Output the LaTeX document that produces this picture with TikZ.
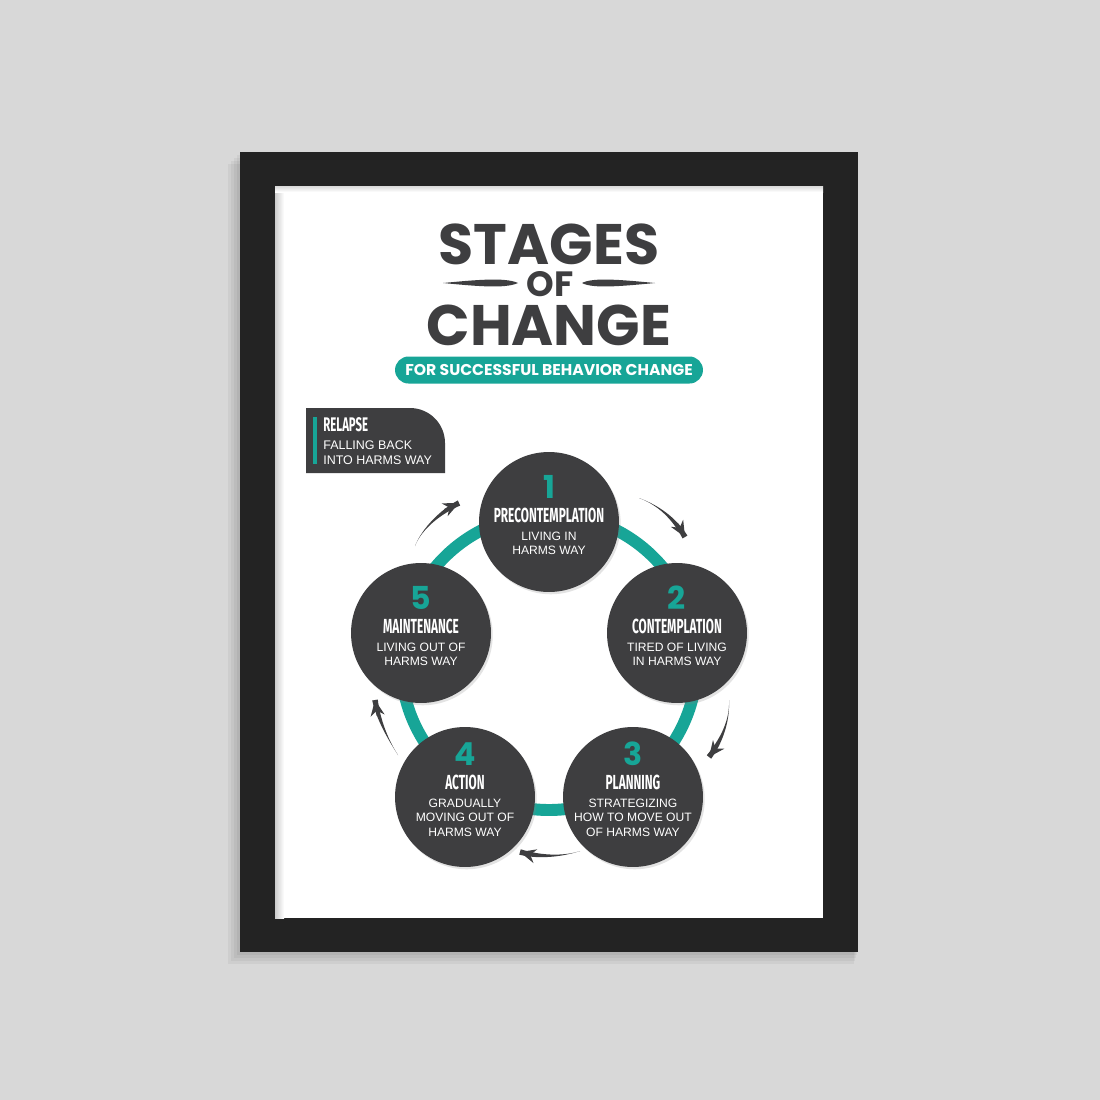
\documentclass[tikz,border=0pt]{standalone}
\usepackage{fontspec}
\setmainfont{Liberation Sans}
\newfontfamily\headfont{Poppins}
\newfontfamily\condfont[FakeStretch=0.58]{Fira Sans}
\usepackage{tikz}
\usetikzlibrary{calc,arrows.meta,shadows}
\definecolor{wall}{HTML}{D8D8D8}
\definecolor{frame}{HTML}{232323}
\definecolor{ink}{HTML}{3E3E40}
\definecolor{teal}{HTML}{17A597}
\tikzset{
  head/.style={text=ink, font=\headfont\bfseries, inner sep=0pt},
  pill/.style={fill=teal, text=white, rounded corners=0.27cm, minimum width=6.16cm, minimum height=0.54cm, inner sep=0pt, font=\headfont\bfseries\fontsize{8.9}{10}\selectfont},
  ring/.style={draw=teal, line width=6.8pt},
  stage/.style={circle, fill=ink, minimum size=2.8cm, inner sep=0pt, drop shadow={opacity=0.22, shadow xshift=1pt, shadow yshift=-1.3pt}},
  num/.style={text=teal, font=\headfont\bfseries\fontsize{18}{18}\selectfont, inner sep=0pt},
  ttl/.style={text=white, font=\condfont\bfseries\fontsize{11.6}{12}\selectfont, inner sep=0pt},
  desc/.style={text=white, align=center, font=\fontsize{6.9}{8.2}\selectfont, inner sep=0pt},
  tip/.style={draw=ink, line width=1pt, -{Stealth[length=9pt, width=8pt]}},
}

\begin{document}
\begin{tikzpicture}[x=0.02cm, y=-0.02cm]
  \useasboundingbox (0,0) rectangle (1100,1100);
  \fill[wall] (0,0) rectangle (1100,1100);

  % frame and paper
  \foreach \s in {3,6,9,12}
    \fill[black, opacity=0.045] (240-\s,152+\s) rectangle (858-\s/3,952+\s);
  \fill[frame] (240,152) rectangle (858,952);
  \fill[white] (275,186) rectangle (823,918);
  \shade[left color=black!20, right color=white] (275,186) rectangle (284,918);
  \shade[top color=black!15, bottom color=white] (275,186) rectangle (823,192);

  % title
  \node[head, font=\headfont\bfseries\fontsize{32.5}{33}\selectfont] (stages) at (549,244) {STAGES};
  \node[head, font=\headfont\bfseries\fontsize{20}{20}\selectfont] (of) at (550,284) {OF};
  \node[head, font=\headfont\bfseries\fontsize{32.5}{33}\selectfont] (change) at (549,325) {CHANGE};
  \fill[ink] (443,283) .. controls (475,280) and (505,277) .. (518,283)
             .. controls (505,289) and (475,286) .. (443,283);
  \fill[ink] (655,283) .. controls (623,280) and (593,277) .. (582,283)
             .. controls (593,289) and (623,286) .. (655,283);
  \node[pill] (sub) at (549,370) {FOR SUCCESSFUL BEHAVIOR CHANGE};

  % relapse
  \fill[ink] (306,473) -- (306,408) -- (410,408) arc[start angle=-90, end angle=0, radius=35] -- (445,473) -- cycle;
  \fill[teal] (313,417) rectangle (317,464);
  \node[ttl, anchor=base west, font=\condfont\bfseries\fontsize{11.2}{12}\selectfont] (rl) at (323,431) {RELAPSE};
  \node[desc, anchor=north west, align=left, font=\fontsize{7.1}{8.5}\selectfont] (rd) at (323,440) {FALLING BACK\\INTO HARMS WAY};

  % cycle
  \draw[ring] (549,662) circle (148);
  \foreach \i/\x/\y/\dy/\ttl/\sub in {
      1/549/522/0/PRECONTEMPLATION/{LIVING IN\\HARMS WAY},
      2/677/633/0/CONTEMPLATION/{TIRED OF LIVING\\IN HARMS WAY},
      3/633/797/-8/PLANNING/{STRATEGIZING\\HOW TO MOVE OUT\\OF HARMS WAY},
      4/465/797/-8/ACTION/{GRADUALLY\\MOVING OUT OF\\HARMS WAY},
      5/421/633/0/MAINTENANCE/{LIVING OUT OF\\HARMS WAY}} {
    \node[stage] (s\i) at (\x,\y) {};
    \node[num, anchor=base] (n\i) at ($(s\i)+(0,\dy-24)$) {\i};
    \node[ttl, anchor=base] (t\i) at ($(s\i)+(0,\dy)$) {\ttl};
    \node[desc, anchor=north] (d\i) at ($(s\i)+(0,\dy+9.5)$) {\sub};
  }

  % arrows: tail a, controls p and q, head b
  \coordinate (a12) at (639,498); \coordinate (p12) at (658,505);
  \coordinate (q12) at (674,518); \coordinate (b12) at (685,537);
  \coordinate (a23) at (729,700); \coordinate (p23) at (730,720);
  \coordinate (q23) at (722,740); \coordinate (b23) at (709,757);
  \coordinate (a34) at (580,851); \coordinate (p34) at (565,856);
  \coordinate (q34) at (542,858); \coordinate (b34) at (520,852);
  \coordinate (a45) at (398,755); \coordinate (p45) at (387,738);
  \coordinate (q45) at (378,718); \coordinate (b45) at (375,700);
  \coordinate (a51) at (415,546); \coordinate (p51) at (422,528);
  \coordinate (q51) at (442,511); \coordinate (b51) at (459,503);
  \foreach \k in {12,23,34,45,51} {
    \fill[ink] (a\k) .. controls (p\k) and ($(q\k)!1.1pt!-90:(b\k)$) .. ($(b\k)!1.6pt!90:(q\k)$)
      -- ($(b\k)!1.6pt!-90:(q\k)$) .. controls ($(q\k)!1.1pt!90:(b\k)$) and (p\k) .. (a\k);
    \draw[tip] ($(b\k)!9pt!(q\k)$) -- (b\k);
  }
\end{tikzpicture}
\end{document}
